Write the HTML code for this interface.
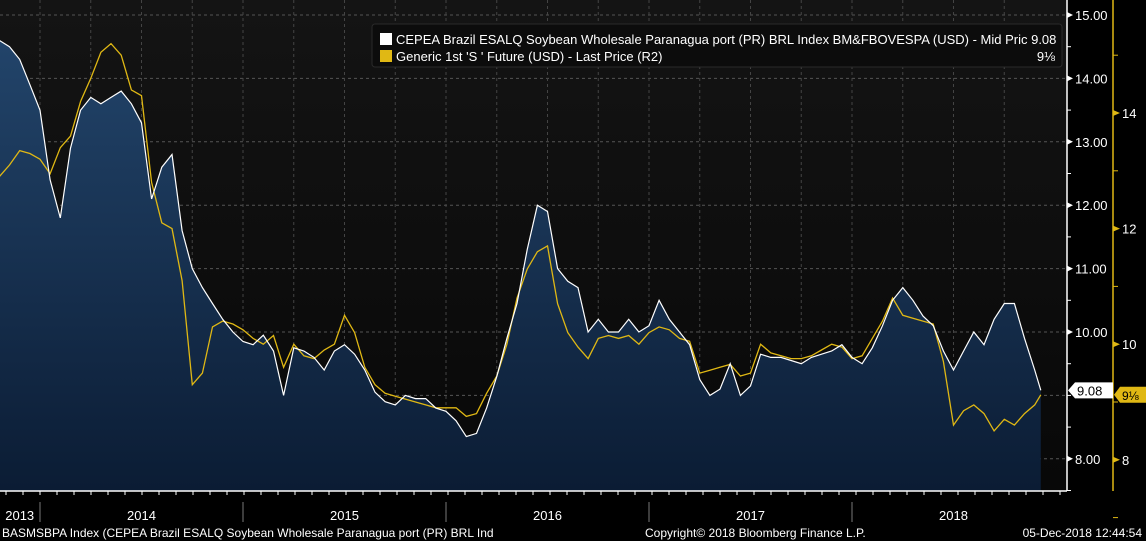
<!DOCTYPE html>
<html><head><meta charset="utf-8"><style>
html,body{margin:0;padding:0;background:#000;width:1146px;height:541px;overflow:hidden}
svg text{font-family:"Liberation Sans","DejaVu Sans",sans-serif}
</style></head><body>
<svg id="chart" width="1146" height="541" viewBox="0 0 1146 541" xmlns="http://www.w3.org/2000/svg">
<defs>
<linearGradient id="area" x1="0" y1="0" x2="0" y2="1">
<stop offset="0" stop-color="#22446a"/><stop offset="1" stop-color="#0b1c34"/>
</linearGradient>
<linearGradient id="bg" x1="0" y1="0" x2="0" y2="1">
<stop offset="0" stop-color="#141414"/><stop offset="1" stop-color="#080808"/>
</linearGradient>
</defs>
<rect x="0" y="0" width="1067" height="491" fill="url(#bg)"/>
<g id="grid"></g>
<g id="series"></g>
<g id="axes"></g>
<g>
<rect x="372" y="24" width="690" height="43" rx="3" fill="#0c0c0c" stroke="#2a2a2a"/>
<rect x="380" y="33" width="12" height="12" fill="#fff"/>
<text x="396" y="44" fill="#fff" font-size="13">CEPEA Brazil ESALQ Soybean Wholesale Paranagua port (PR) BRL Index BM&amp;FBOVESPA (USD) - Mid Pric 9.08</text>
<rect x="380" y="50" width="12" height="12" fill="#e0b814"/>
<text x="396" y="61" fill="#fff" font-size="13">Generic 1st 'S ' Future (USD) - Last Price (R2)</text>
<text x="1055" y="61" fill="#fff" font-size="13" text-anchor="end">9⅛</text>
</g>
<text x="2" y="537" fill="#fff" font-size="12">BASMSBPA Index (CEPEA Brazil ESALQ Soybean Wholesale Paranagua port (PR) BRL Ind</text>
<text x="645" y="537" fill="#fff" font-size="12">Copyright© 2018 Bloomberg Finance L.P.</text>
<text x="1142" y="537" fill="#fff" font-size="12" text-anchor="end">05-Dec-2018 12:44:54</text>
</svg>
<script>
const dates=[2013.80,2013.85,2013.90,2013.95,2014.00,2014.05,2014.10,2014.15,2014.20,2014.25,2014.30,2014.35,2014.40,2014.45,2014.50,2014.55,2014.60,2014.65,2014.70,2014.75,2014.80,2014.85,2014.90,2014.95,2015.00,2015.05,2015.10,2015.15,2015.20,2015.25,2015.30,2015.35,2015.40,2015.45,2015.50,2015.55,2015.60,2015.65,2015.70,2015.75,2015.80,2015.85,2015.90,2015.95,2016.00,2016.05,2016.10,2016.15,2016.20,2016.25,2016.30,2016.35,2016.40,2016.45,2016.50,2016.55,2016.60,2016.65,2016.70,2016.75,2016.80,2016.85,2016.90,2016.95,2017.00,2017.05,2017.10,2017.15,2017.20,2017.25,2017.30,2017.35,2017.40,2017.45,2017.50,2017.55,2017.60,2017.65,2017.70,2017.75,2017.80,2017.85,2017.90,2017.95,2018.00,2018.05,2018.10,2018.15,2018.20,2018.25,2018.30,2018.35,2018.40,2018.45,2018.50,2018.55,2018.60,2018.65,2018.70,2018.75,2018.80,2018.85,2018.90,2018.93];
const cepea=[14.6,14.5,14.3,13.9,13.5,12.4,11.8,12.9,13.5,13.7,13.6,13.7,13.8,13.6,13.3,12.1,12.6,12.8,11.6,11.0,10.7,10.45,10.2,10.0,9.85,9.8,9.95,9.7,9.0,9.75,9.7,9.6,9.4,9.7,9.8,9.65,9.4,9.05,8.9,8.85,9.0,8.95,8.95,8.8,8.75,8.6,8.35,8.4,8.8,9.3,9.9,10.45,11.3,12.0,11.9,11.0,10.8,10.7,10.0,10.2,10.0,10.0,10.2,10.0,10.1,10.5,10.2,10.0,9.8,9.25,9.0,9.1,9.5,9.0,9.15,9.65,9.6,9.6,9.55,9.5,9.6,9.65,9.7,9.8,9.6,9.5,9.75,10.1,10.5,10.7,10.5,10.25,10.1,9.7,9.4,9.7,10.0,9.8,10.2,10.45,10.45,9.9,9.4,9.08];
const future=[12.9,13.1,13.35,13.3,13.2,12.95,13.4,13.6,14.2,14.6,15.05,15.2,15.0,14.4,14.3,12.8,12.1,12.0,11.1,9.3,9.5,10.3,10.4,10.35,10.25,10.1,10.0,10.15,9.6,10.0,9.8,9.75,9.9,10.0,10.5,10.2,9.6,9.3,9.15,9.1,9.05,9.0,8.95,8.9,8.9,8.9,8.75,8.8,9.15,9.45,10.0,10.8,11.3,11.6,11.7,10.7,10.2,9.95,9.75,10.1,10.15,10.1,10.15,10.0,10.2,10.3,10.25,10.1,10.05,9.5,9.55,9.6,9.65,9.45,9.5,10.0,9.85,9.8,9.75,9.75,9.8,9.9,10.0,9.95,9.75,9.8,10.1,10.4,10.8,10.5,10.45,10.4,10.35,9.7,8.6,8.85,8.95,8.8,8.5,8.7,8.6,8.8,8.95,9.125];
const leftTicks=[15,14,13,12,11,10,8];
const rightTicks=[14,12,10,8];
const yearLabels=["2013","2014","2015","2016","2017","2018"];
const yearCenters=[2013.9,2014.5,2015.5,2016.5,2017.5,2018.5];
const yearBounds=[2014,2015,2016,2017,2018];

const NS="http://www.w3.org/2000/svg";
const xS=d=>40+(d-2014)*203;
const yL=v=>15+(15-v)*63.4;
const yR=v=>113+(14-v)*57.8;
function mk(tag,attrs,parent){const e=document.createElementNS(NS,tag);for(const k in attrs)e.setAttribute(k,attrs[k]);parent.appendChild(e);return e;}
const grid=document.getElementById('grid'),ser=document.getElementById('series'),ax=document.getElementById('axes');

for(let v=8;v<=15;v++){const g=mk('line',{x1:0,x2:1067,y1:yL(v),y2:yL(v),stroke:'#555','stroke-dasharray':'3,3','stroke-width':1},grid);

}
for(let q=2013.75;q<=2018.76;q+=0.25){const g=mk('line',{x1:xS(q),x2:xS(q),y1:0,y2:491,stroke:'#444','stroke-dasharray':'3,3','stroke-width':1},grid);

}

let ap='M'+xS(dates[0])+','+491;
dates.forEach((d,i)=>{ap+=' L'+xS(d).toFixed(1)+','+yL(cepea[i]).toFixed(1);});
ap+=' L'+xS(dates[dates.length-1])+',491 Z';
const area=mk('path',{d:ap,fill:'url(#area)'},ser);


const fl=mk('polyline',{points:dates.map((d,i)=>xS(d).toFixed(1)+','+yR(future[i]).toFixed(1)).join(' '),fill:'none',stroke:'#e0b814','stroke-width':1.3},ser);


const wl=mk('polyline',{points:dates.map((d,i)=>xS(d).toFixed(1)+','+yL(cepea[i]).toFixed(1)).join(' '),fill:'none',stroke:'#fff','stroke-width':1.2},ser);



mk('line',{x1:1067,x2:1067,y1:0,y2:491,stroke:'#fff','stroke-width':1.5},ax);
mk('line',{x1:0,x2:1067,y1:491,y2:491,stroke:'#fff','stroke-width':1.5},ax);
for(let x=6;x<1067;x+=17) mk('line',{x1:x,x2:x,y1:491,y2:495,stroke:'#fff'},ax);
mk('line',{x1:1113,x2:1113,y1:0,y2:491,stroke:'#e0b814','stroke-width':1.5},ax);
for(let v=7.5;v<=15;v+=0.5){mk('line',{x1:1067,x2:1071,y1:yL(v),y2:yL(v),stroke:'#fff'},ax);}
leftTicks.forEach(v=>{const y=yL(v);
mk('path',{d:`M1067,${y-3} L1073,${y} L1067,${y+3}Z`,fill:'#fff'},ax);
const t=mk('text',{x:1075,y:y+5,fill:'#fff','font-size':13},ax);t.textContent=v.toFixed(2);

});
for(let v=7;v<=15;v++){mk('line',{x1:1113,x2:1118,y1:yR(v),y2:yR(v),stroke:'#e0b814'},ax);}
rightTicks.forEach(v=>{const y=yR(v);
mk('path',{d:`M1113,${y-3} L1120,${y} L1113,${y+3}Z`,fill:'#e0b814'},ax);
const t=mk('text',{x:1122,y:y+5,fill:'#fff','font-size':13},ax);t.textContent=v;

});
// last-value tags
const yw=yL(cepea[cepea.length-1]);
const tw=mk('path',{d:`M1068,${yw} L1075,${yw-8} L1113,${yw-8} L1113,${yw+8} L1075,${yw+8}Z`,fill:'#fff'},ax);


const tt=mk('text',{x:1077,y:yw+5,fill:'#000','font-size':13},ax);tt.textContent=cepea[cepea.length-1].toFixed(2);
const yy=yR(future[future.length-1]);
const ty=mk('path',{d:`M1114,${yy} L1120,${yy-8} L1146,${yy-8} L1146,${yy+8} L1120,${yy+8}Z`,fill:'#e0b814'},ax);


const ty2=mk('text',{x:1122,y:yy+5,fill:'#000','font-size':12},ax);ty2.textContent='9⅛';
yearBounds.forEach(b=>{mk('line',{x1:xS(b),x2:xS(b),y1:502,y2:522,stroke:'#777'},ax);});
yearLabels.forEach((l,i)=>{const t=mk('text',{x:xS(yearCenters[i]),y:520,fill:'#fff','font-size':13,'text-anchor':'middle'},ax);t.textContent=l;

});
</script>
</body></html>
